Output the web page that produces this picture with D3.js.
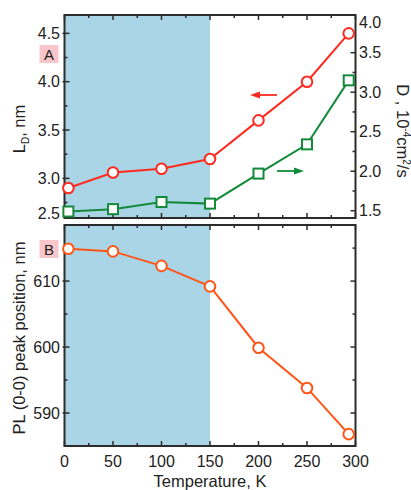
<!DOCTYPE html>
<html><head><meta charset="utf-8">
<script src="https://cdn.jsdelivr.net/npm/d3@7"></script>
<style>
html,body{margin:0;padding:0;background:#fff;}
svg{display:block;font-family:"Liberation Sans",Arial,sans-serif;}
</style></head>
<body><svg id="c" width="411" height="490"></svg>
<script>
// ---- data ----
const temps = [4, 50, 100, 150, 200, 250, 293];
const diffLength = [2.9, 3.06, 3.1, 3.2, 3.6, 4.0, 4.5];      // L_D, nm (left axis, panel A)
const diffCoef = [1.49, 1.52, 1.61, 1.59, 1.97, 2.34, 3.15];  // D, 10^-4 cm2/s (right axis, panel A)
const plPeak = [614.9, 614.5, 612.3, 609.2, 599.9, 593.8, 586.8]; // PL peak, nm (panel B)
const shadeRange = [0, 150];
const xTicks = [0, 50, 100, 150, 200, 250, 300];
const ldTicks = [2.5, 3.0, 3.5, 4.0, 4.5];
const dTicks = [1.5, 2.0, 2.5, 3.0, 3.5, 4.0];
const plTicks = [590, 600, 610];

const svg = d3.select("#c");
const L = 64.5, R = 355.5;
const A = {top: 15, bottom: 218};
const B = {top: 225, bottom: 446};
const cRed = "#ff2a1f", cGreen = "#138a3a", cOrange = "#ff5517", cBlue = "#a9d5e7", cAxis = "#2b2b2b";

const x = d3.scaleLinear().domain([0, 300]).range([L, R]);
const yL = d3.scaleLinear().domain([2.59, 4.69]).range([A.bottom, A.top]);
const yR = d3.scaleLinear().domain([1.408, 3.977]).range([A.bottom, A.top]);
const yB = d3.scaleLinear().domain([585, 618.5]).range([B.bottom, B.top]);

function panelBg(p) {
  svg.append("rect").attr("x", x(shadeRange[0])).attr("y", p.top)
    .attr("width", x(shadeRange[1]) - x(shadeRange[0])).attr("height", p.bottom - p.top)
    .attr("fill", cBlue);
}
panelBg(A); panelBg(B);

function frame(p, yScale, majors, minors, yScale2, majors2, minors2) {
  const g = svg.append("g").attr("stroke", cAxis).attr("stroke-width", 1.5);
  const xMaj = d3.range(0, 301, 50), xMin = d3.range(25, 300, 50);
  xMaj.forEach(t => {
    g.append("line").attr("x1", x(t)).attr("x2", x(t)).attr("y1", p.bottom).attr("y2", p.bottom - 5);
    g.append("line").attr("x1", x(t)).attr("x2", x(t)).attr("y1", p.top).attr("y2", p.top + 5);
  });
  xMin.forEach(t => {
    g.append("line").attr("x1", x(t)).attr("x2", x(t)).attr("y1", p.bottom).attr("y2", p.bottom - 3);
    g.append("line").attr("x1", x(t)).attr("x2", x(t)).attr("y1", p.top).attr("y2", p.top + 3);
  });
  const inRange = (s, v) => { const yy = s(v); return yy >= p.top - 0.5 && yy <= p.bottom + 0.5; };
  majors.filter(v => inRange(yScale, v)).forEach(v => {
    g.append("line").attr("x1", L - 2).attr("x2", L + 5).attr("y1", yScale(v)).attr("y2", yScale(v));
  });
  minors.filter(v => inRange(yScale, v)).forEach(v => {
    g.append("line").attr("x1", L).attr("x2", L + 3).attr("y1", yScale(v)).attr("y2", yScale(v));
  });
  majors2.filter(v => inRange(yScale2, v)).forEach(v => {
    g.append("line").attr("x1", R).attr("x2", R - 5).attr("y1", yScale2(v)).attr("y2", yScale2(v));
  });
  minors2.filter(v => inRange(yScale2, v)).forEach(v => {
    g.append("line").attr("x1", R).attr("x2", R - 3).attr("y1", yScale2(v)).attr("y2", yScale2(v));
  });
  svg.append("rect").attr("x", L).attr("y", p.top).attr("width", R - L).attr("height", p.bottom - p.top)
    .attr("fill", "none").attr("stroke", cAxis).attr("stroke-width", 2);
}
frame(A, yL, ldTicks, d3.range(2.75, 4.7, 0.5), yR, dTicks, d3.range(1.75, 4.0, 0.5));
frame(B, yB, plTicks, [595, 605, 615], yB, plTicks, [595, 605, 615]);

// tick labels
const fs = 16;
function clampY(p, yy) { return Math.max(p.top + 7, Math.min(p.bottom - 5, yy)); }
ldTicks.forEach(v => svg.append("text").attr("x", 60).attr("y", clampY(A, yL(v)))
  .attr("text-anchor", "end").attr("dominant-baseline", "central").attr("font-size", fs)
  .attr("fill", "#222").text(v.toFixed(1)));
dTicks.forEach(v => svg.append("text").attr("x", 359).attr("y", clampY(A, yR(v)))
  .attr("text-anchor", "start").attr("dominant-baseline", "central").attr("font-size", fs)
  .attr("fill", "#222").text(v.toFixed(1)));
plTicks.forEach(v => svg.append("text").attr("x", 60).attr("y", yB(v))
  .attr("text-anchor", "end").attr("dominant-baseline", "central").attr("font-size", fs)
  .attr("fill", "#222").text(v));
xTicks.forEach(v => svg.append("text").attr("x", x(v)).attr("y", 467)
  .attr("text-anchor", "middle").attr("font-size", fs).attr("fill", "#222").text(v));

// axis titles
svg.append("text").attr("x", 210).attr("y", 487).attr("text-anchor", "middle")
  .attr("font-size", 16.5).attr("fill", "#222").text("Temperature, K");
const tl = svg.append("text").attr("transform", "translate(25,129) rotate(-90)")
  .attr("text-anchor", "middle").attr("font-size", 16.5).attr("fill", "#222");
tl.append("tspan").text("L");
tl.append("tspan").attr("font-size", 10).attr("dy", 4).text("D");
tl.append("tspan").attr("dy", -4).text(", nm");
svg.append("text").attr("transform", "translate(25,338) rotate(-90)")
  .attr("text-anchor", "middle").attr("font-size", 16.5).attr("fill", "#222")
  .text("PL (0-0) peak position, nm");
const tr = svg.append("text").attr("transform", "translate(397,131) rotate(90)")
  .attr("text-anchor", "middle").attr("font-size", 16.5).attr("fill", "#222");
tr.append("tspan").text("D , 10");
tr.append("tspan").attr("font-size", 10).attr("dy", -6).text("-4");
tr.append("tspan").attr("dy", 6).text("cm");
tr.append("tspan").attr("font-size", 10).attr("dy", -6).text("2");
tr.append("tspan").attr("dy", 6).text("/s");

// panel labels
function panelLabel(txt, cx, cy) {
  svg.append("rect").attr("x", cx - 9.5).attr("y", cy - 9).attr("width", 19).attr("height", 18).attr("fill", "#f8c6cb");
  svg.append("text").attr("x", cx).attr("y", cy).attr("text-anchor", "middle")
    .attr("dominant-baseline", "central").attr("font-size", 15).attr("fill", "#222").text(txt);
}
panelLabel("A", 49, 54);
panelLabel("B", 49, 249);

// series
function series(vals, yScale, color, shape) {
  const pts = temps.map((t, i) => [x(t), yScale(vals[i])]);
  svg.append("path").attr("d", d3.line()(pts)).attr("fill", "none").attr("stroke", color).attr("stroke-width", 2);
  pts.forEach(p => {
    if (shape === "circle") {
      svg.append("circle").attr("cx", p[0]).attr("cy", p[1]).attr("r", 5.3)
        .attr("fill", "#fff").attr("stroke", color).attr("stroke-width", 2);
    } else {
      svg.append("rect").attr("x", p[0] - 5).attr("y", p[1] - 5).attr("width", 10).attr("height", 10)
        .attr("fill", "#fff").attr("stroke", color).attr("stroke-width", 2);
    }
  });
}
series(diffLength, yL, cRed, "circle");
series(diffCoef, yR, cGreen, "square");
series(plPeak, yB, cOrange, "circle");

// arrows
function arrow(x1, x2, yy, color) {
  const dir = Math.sign(x2 - x1);
  svg.append("line").attr("x1", x1).attr("x2", x2 - dir * 6).attr("y1", yy).attr("y2", yy)
    .attr("stroke", color).attr("stroke-width", 1.8);
  svg.append("path").attr("d", `M${x2},${yy} L${x2 - dir * 10},${yy - 3.5} L${x2 - dir * 10},${yy + 3.5} Z`).attr("fill", color);
}
arrow(277, 250, 95, cRed);
arrow(277, 304, 171, cGreen);
</script></body></html>
